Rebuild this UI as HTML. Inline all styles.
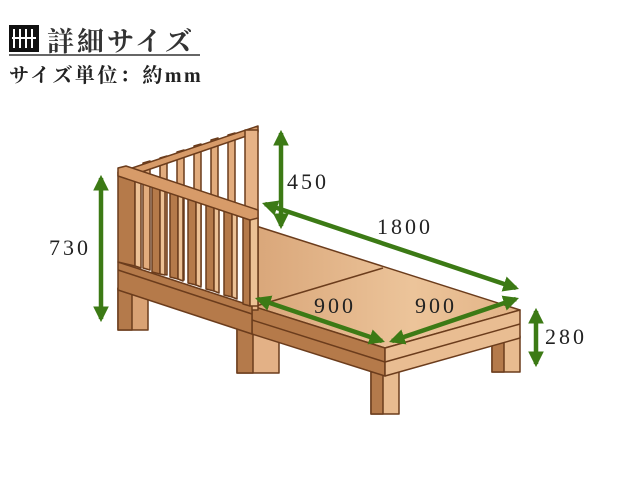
<!DOCTYPE html>
<html><head><meta charset="utf-8"><style>
html,body{margin:0;padding:0;background:#fff;width:640px;height:499px;overflow:hidden}
svg{display:block}
</style></head><body>
<svg width="640" height="499" viewBox="0 0 640 499" xmlns="http://www.w3.org/2000/svg">
<defs>
<linearGradient id="deck" x1="0" y1="0" x2="1" y2="0"><stop offset="0" stop-color="#d9a679"/><stop offset="0.6" stop-color="#ecc49a"/><stop offset="1" stop-color="#e2b386"/></linearGradient>
<marker id="ah" viewBox="0 0 10 10" refX="8" refY="5" markerWidth="3.5" markerHeight="3.5" orient="auto-start-reverse" markerUnits="strokeWidth"><path d="M0,0 L10,5 L0,10 z" fill="#3c7a15"/></marker>
</defs>
<rect x="9" y="25" width="30" height="27" fill="#111"/>
<g stroke="#fff" stroke-width="2"><line x1="14" y1="29" x2="14" y2="48"/><line x1="20" y1="29" x2="20" y2="48"/><line x1="26" y1="29" x2="26" y2="48"/><line x1="32" y1="29" x2="32" y2="48"/><line x1="12" y1="38" x2="36" y2="38"/></g>
<text x="47" y="51" font-family="'Liberation Serif','Noto Serif CJK SC',serif" font-size="27" font-weight="bold" fill="#333" letter-spacing="3">詳細サイズ</text>
<line x1="9" y1="55" x2="200" y2="55" stroke="#333" stroke-width="1.5"/>
<text x="9" y="82" font-family="'Liberation Serif','Noto Serif CJK SC',serif" font-size="20" font-weight="bold" fill="#222" letter-spacing="2.5">サイズ単位：約mm</text>

<g stroke="#6b3c1c" stroke-width="1.5" stroke-linejoin="round">
<rect x="118" y="288" width="30" height="42" fill="#d9a274"/><rect x="118" y="288" width="14" height="42" fill="#b47a4b"/>
<rect x="237" y="326" width="42" height="47" fill="#e3b186"/><rect x="237" y="326" width="16" height="47" fill="#b47a4b"/>
<rect x="371" y="372" width="28" height="42" fill="#e8bb8f"/><rect x="371" y="372" width="12" height="42" fill="#b47a4b"/>
<rect x="492" y="336" width="28" height="36" fill="#e8bb8f"/><rect x="492" y="336" width="12" height="36" fill="#b47a4b"/>
<polygon points="256,226 520,310 385,348 252,306" fill="url(#deck)"/>
<line x1="383" y1="268" x2="256" y2="306"/>
<polygon points="252,306 385,348 385,376 252,334" fill="#b57a4a"/>
<polygon points="385,348 520,310 520,338 385,376" fill="#e9bd92"/>
<line x1="252" y1="320" x2="385" y2="362"/><line x1="385" y1="362" x2="520" y2="324"/>
<polygon points="130,172 258,128 258,300 130,262" fill="#fff" stroke="none"/>
<g fill="#e2ac7d">
<polygon points="143,163 150,161 150,270 143,268"/><polygon points="160,158 167,156 167,275 160,273"/>
<polygon points="177,152 184,150 184,280 177,278"/><polygon points="194,146 201,144 201,285 194,283"/>
<polygon points="211,140 218,138 218,290 211,288"/><polygon points="228,135 235,133 235,295 228,293"/>
</g>
<polygon points="126,170 258,126 258,132 130,176" fill="#d79b69"/>
<rect x="245" y="130" width="13" height="180" fill="#e6b286"/>
<polygon points="118,262 252,306 252,334 118,290" fill="#b57a4a"/>
<line x1="118" y1="270" x2="252" y2="314"/>
<g>
<polygon points="118,172 135,178 135,266 118,262" fill="#b57a4a"/>
<polygon points="135,178 141,180 141,268 135,266" fill="#ecc195"/>
<polygon points="152,184 160,186 160,274 152,272" fill="#b57a4a"/><polygon points="160,186 165,188 165,275 160,274" fill="#ecc195"/>
<polygon points="170,189 178,192 178,279 170,277" fill="#b57a4a"/><polygon points="178,192 183,193 183,281 178,279" fill="#ecc195"/>
<polygon points="188,195 196,198 196,285 188,283" fill="#b57a4a"/><polygon points="196,198 201,199 201,287 196,285" fill="#ecc195"/>
<polygon points="206,201 214,204 214,291 206,289" fill="#b57a4a"/><polygon points="214,204 219,205 219,293 214,291" fill="#ecc195"/>
<polygon points="224,207 232,210 232,297 224,295" fill="#b57a4a"/><polygon points="232,210 237,211 237,299 232,297" fill="#ecc195"/>
<polygon points="243,214 250,216 250,306 243,304" fill="#b57a4a"/><polygon points="250,216 258,218 258,306 250,306" fill="#ecc195"/>
</g>
<polygon points="118,168 126,166 258,210 258,218 250,220 118,176" fill="#d79b69"/>
</g>

<g stroke="#3c7a15" stroke-width="4.5" fill="none" marker-start="url(#ah)" marker-end="url(#ah)">
<line x1="101" y1="178" x2="101" y2="319"/>
<line x1="281" y1="133" x2="281" y2="226"/>
<line x1="265" y1="204" x2="516" y2="288"/>
<line x1="258" y1="299" x2="382" y2="341"/>
<line x1="392" y1="341" x2="516" y2="299"/>
<line x1="536" y1="311" x2="536" y2="364"/>
</g>
<g font-family="'Liberation Serif',serif" font-size="22" fill="#222" letter-spacing="3">
<text x="49" y="255">730</text>
<text x="287" y="189">450</text>
<text x="377" y="234">1800</text>
<text x="314" y="313">900</text>
<text x="415" y="313">900</text>
<text x="545" y="344">280</text>
</g>
</svg>
</body></html>
